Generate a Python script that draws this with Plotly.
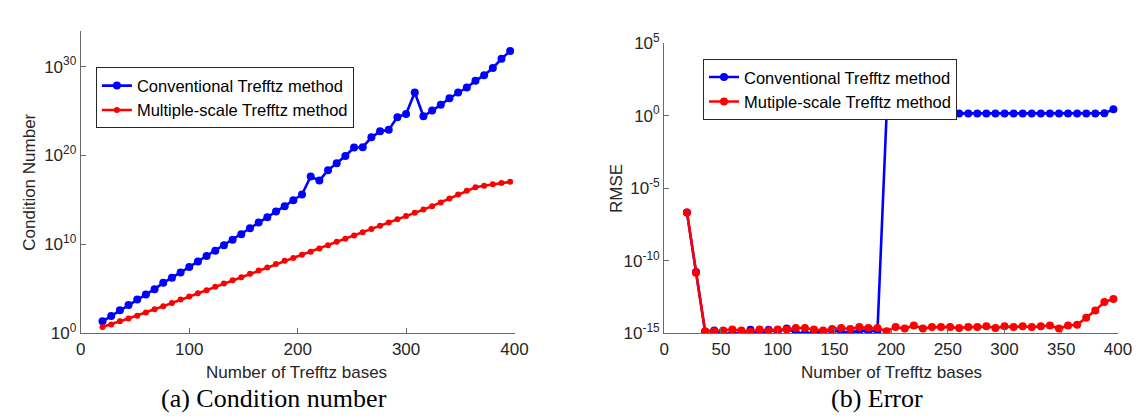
import plotly.graph_objects as go

# ---------------- data ----------------
n_bases = [20, 28, 36, 44, 52, 60, 68, 76, 84, 92, 100, 108, 116, 124, 132, 140,
           148, 156, 164, 172, 180, 188, 196, 204, 212, 220, 228, 236, 244, 252,
           260, 268, 276, 284, 292, 300, 308, 316, 324, 332, 340, 348, 356, 364,
           372, 380, 388, 396]

# log10 of condition number
cond_conv_log = [1.35, 1.95, 2.59, 3.19, 3.80, 4.37, 4.97, 5.68, 6.25, 6.85, 7.45, 8.09,
                 8.70, 9.30, 9.90, 10.54, 11.15, 11.82, 12.46, 13.06, 13.70, 14.31, 14.98,
                 15.62, 17.64, 17.18, 18.35, 19.13, 19.95, 20.91, 20.94, 22.05, 22.72,
                 22.90, 24.32, 24.67, 27.09, 24.42, 25.06, 25.70, 26.45, 27.09, 27.65,
                 28.40, 29.04, 29.85, 30.88, 31.77]
cond_ms_log = [0.71, 0.99, 1.35, 1.67, 1.99, 2.34, 2.70, 3.05, 3.41, 3.80, 4.15, 4.51,
               4.86, 5.25, 5.61, 5.96, 6.32, 6.71, 7.06, 7.42, 7.81, 8.16, 8.48, 8.84,
               9.19, 9.55, 9.90, 10.29, 10.65, 11.00, 11.36, 11.75, 12.11, 12.46, 12.82,
               13.21, 13.56, 13.92, 14.31, 14.73, 15.16, 15.62, 16.05, 16.44, 16.61,
               16.76, 16.90, 17.04]

# log10 of RMSE
rmse_conv_log = [-6.67, -10.78, -14.89, -14.80, -15.02, -15.02, -14.96, -14.76, -15.07,
                 -14.76, -14.89, -14.67, -14.96, -15.00, -14.96, -14.89, -14.80, -14.89,
                 -14.96, -14.80, -14.85, -14.80, 0.11, 0.13, 0.14, 0.15, 0.15, 0.15, 0.15,
                 0.15, 0.15, 0.15, 0.15, 0.15, 0.15, 0.15, 0.15, 0.15, 0.15, 0.15, 0.15,
                 0.15, 0.15, 0.15, 0.15, 0.15, 0.16, 0.43]
rmse_ms_log = [-6.67, -10.83, -14.85, -14.85, -14.80, -14.74, -14.80, -14.89, -14.74,
               -14.80, -14.74, -14.74, -14.63, -14.63, -14.74, -14.80, -14.70, -14.63,
               -14.70, -14.57, -14.63, -14.63, -14.85, -14.57, -14.67, -14.46, -14.67,
               -14.57, -14.57, -14.57, -14.63, -14.57, -14.57, -14.52, -14.63, -14.52,
               -14.57, -14.52, -14.57, -14.52, -14.46, -14.67, -14.46, -14.41, -13.93,
               -13.43, -12.85, -12.63]

cond_ticks = [0, 10, 20, 30]
rmse_ticks = [-15, -10, -5, 0, 5]
x_ticks_a = [0, 100, 200, 300, 400]
x_ticks_b = [0, 50, 100, 150, 200, 250, 300, 350, 400]

cond_conv = [10.0 ** v for v in cond_conv_log]
cond_ms = [10.0 ** v for v in cond_ms_log]
rmse_conv = [10.0 ** v for v in rmse_conv_log]
rmse_ms = [10.0 ** v for v in rmse_ms_log]

BLUE = "#0000FF"
RED = "#FF0000"
AXC = "#6a6a6a"
SANS = "Liberation Sans, Arial, sans-serif"
SERIF = "Liberation Serif, Times New Roman, serif"

W, H = 1140, 419

fig = go.Figure()

fig.add_trace(go.Scatter(x=n_bases, y=cond_conv, mode="lines+markers",
                         name="Conventional Trefftz method",
                         line=dict(color=BLUE, width=2.6),
                         marker=dict(color=BLUE, size=8),
                         xaxis="x", yaxis="y", legend="legend"))
fig.add_trace(go.Scatter(x=n_bases, y=cond_ms, mode="lines+markers",
                         name="Multiple-scale Trefftz method",
                         line=dict(color=RED, width=2.6),
                         marker=dict(color=RED, size=6),
                         xaxis="x", yaxis="y", legend="legend"))
fig.add_trace(go.Scatter(x=n_bases, y=rmse_conv, mode="lines+markers",
                         name="Conventional Trefftz method",
                         line=dict(color=BLUE, width=2.6),
                         marker=dict(color=BLUE, size=8),
                         xaxis="x2", yaxis="y2", legend="legend2"))
fig.add_trace(go.Scatter(x=n_bases, y=rmse_ms, mode="lines+markers",
                         name="Mutiple-scale Trefftz method",
                         line=dict(color=RED, width=2.6),
                         marker=dict(color=RED, size=8),
                         xaxis="x2", yaxis="y2", legend="legend2"))


def px_x(p):
    return p / W


def px_y(p):
    return 1 - p / H


axis_common = dict(showline=True, linecolor=AXC, linewidth=1.3, ticks="inside",
                   ticklen=5, tickcolor=AXC, tickwidth=1.2, showgrid=False,
                   zeroline=False, mirror=False,
                   tickfont=dict(family=SANS, size=17, color="#262626"))

fig.update_layout(
    width=W, height=H,
    margin=dict(l=0, r=0, t=0, b=0),
    paper_bgcolor="white", plot_bgcolor="white",
    font=dict(family=SANS, color="#262626"),
    xaxis=dict(domain=[px_x(69), px_x(510)], range=[0, 400], anchor="y",
               tickvals=x_ticks_a, **axis_common),
    yaxis=dict(domain=[px_y(330.7), px_y(11.7)], type="log", range=[0, 34],
               anchor="x", tickvals=[10.0 ** t for t in cond_ticks],
               ticktext=["10<sup>%d</sup>" % t for t in cond_ticks], **axis_common),
    xaxis2=dict(domain=[px_x(662.3), px_x(1123.7)], range=[0, 400], anchor="y2",
                tickvals=x_ticks_b, **axis_common),
    yaxis2=dict(domain=[px_y(330.7), px_y(24.3)], type="log", range=[-15, 5],
                anchor="x2", tickvals=[10.0 ** t for t in rmse_ticks],
                ticktext=["10<sup>%d</sup>" % t for t in rmse_ticks], **axis_common),
    legend=dict(x=px_x(84.3), y=px_y(50), xanchor="left", yanchor="top",
                bgcolor="white", bordercolor="#262626", borderwidth=1,
                font=dict(family=SANS, size=16.5, color="#000000"),
                itemwidth=30, tracegroupgap=0),
    legend2=dict(x=px_x(701.7), y=px_y(41), xanchor="left", yanchor="top",
                 bgcolor="white", bordercolor="#262626", borderwidth=1,
                 font=dict(family=SANS, size=16.5, color="#000000"),
                 itemwidth=30, tracegroupgap=0),
    showlegend=True,
)

annots = [
    dict(text="Number of Trefftz bases", x=px_x(288), y=px_y(371.7)),
    dict(text="Number of Trefftz bases", x=px_x(893), y=px_y(371.7)),
    dict(text="Condition Number", x=px_x(16), y=px_y(171), textangle=-90),
    dict(text="RMSE", x=px_x(613), y=px_y(177.5), textangle=-90),
]
for a in annots:
    fig.add_annotation(xref="paper", yref="paper", showarrow=False,
                       xanchor="center", yanchor="middle",
                       font=dict(family=SANS, size=17, color="#262626"), **a)

fig.add_annotation(text="(a) Condition number", x=px_x(265), y=px_y(400),
                   xref="paper", yref="paper", showarrow=False,
                   xanchor="center", yanchor="middle",
                   font=dict(family=SERIF, size=26, color="#000000"))
fig.add_annotation(text="(b) Error", x=px_x(879), y=px_y(400),
                   xref="paper", yref="paper", showarrow=False,
                   xanchor="center", yanchor="middle",
                   font=dict(family=SERIF, size=26, color="#000000"))

fig.write_html("out.html")
